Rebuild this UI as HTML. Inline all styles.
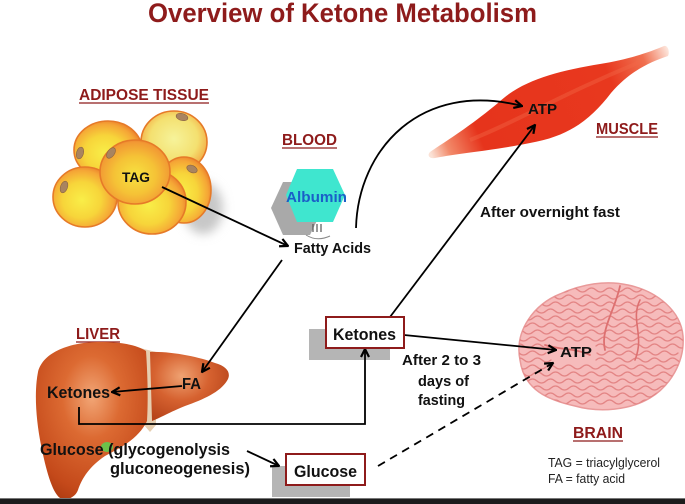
<!DOCTYPE html>
<html><head><meta charset="utf-8"><style>
html,body{margin:0;padding:0;background:#fff;}
svg{display:block;}
text{font-family:"Liberation Sans",Arial,sans-serif;}
</style></head><body>
<svg width="685" height="504" viewBox="0 0 685 504" xmlns="http://www.w3.org/2000/svg">
<defs>
  <marker id="ah" viewBox="0 0 10 10" refX="9" refY="5" markerWidth="10" markerHeight="10" markerUnits="userSpaceOnUse" orient="auto">
    <path d="M1,1 L9,5 L1,9" fill="none" stroke="#000" stroke-width="2.2"/>
  </marker>
  <radialGradient id="cell" cx="0.45" cy="0.55" r="0.6">
    <stop offset="0" stop-color="#f9ee48"/>
    <stop offset="0.5" stop-color="#f7d53a"/>
    <stop offset="0.82" stop-color="#f5a636"/>
    <stop offset="1" stop-color="#ea782a"/>
  </radialGradient>
  <radialGradient id="cellT" cx="0.5" cy="0.55" r="0.6">
    <stop offset="0" stop-color="#f6e240"/>
    <stop offset="0.5" stop-color="#f5c236"/>
    <stop offset="0.85" stop-color="#f29a34"/>
    <stop offset="1" stop-color="#e8742a"/>
  </radialGradient>
  <radialGradient id="cell2" cx="0.5" cy="0.45" r="0.6">
    <stop offset="0" stop-color="#f6f39a"/>
    <stop offset="0.6" stop-color="#f4e070"/>
    <stop offset="0.88" stop-color="#f3b048"/>
    <stop offset="1" stop-color="#ea8030"/>
  </radialGradient>
  <linearGradient id="musc" x1="430" y1="152" x2="668" y2="50" gradientUnits="userSpaceOnUse">
    <stop offset="0" stop-color="#fbe2d6"/>
    <stop offset="0.07" stop-color="#f28a6a"/>
    <stop offset="0.2" stop-color="#e6341c"/>
    <stop offset="0.75" stop-color="#e8381e"/>
    <stop offset="0.9" stop-color="#f07050"/>
    <stop offset="1" stop-color="#fde6dc"/>
  </linearGradient>
  <radialGradient id="liverL" cx="0.5" cy="0.35" r="0.75">
    <stop offset="0" stop-color="#f2a676"/>
    <stop offset="0.35" stop-color="#dc6a32"/>
    <stop offset="0.8" stop-color="#c4491a"/>
    <stop offset="1" stop-color="#a9380f"/>
  </radialGradient>
  <radialGradient id="liverR" cx="0.4" cy="0.35" r="0.7">
    <stop offset="0" stop-color="#efa272"/>
    <stop offset="0.5" stop-color="#d66230"/>
    <stop offset="1" stop-color="#b6431a"/>
  </radialGradient>
  <filter id="blur" x="-50%" y="-50%" width="200%" height="200%"><feGaussianBlur stdDeviation="5"/></filter>
  <clipPath id="brainclip">
    <path d="M520,360 C514,330 535,304 560,294 C582,284 606,280 628,285 C657,291 681,311 683,336 C685,362 670,386 650,398 C630,410 600,413 575,406 C548,400 524,390 520,360 Z"/>
  </clipPath>
</defs>

<!-- Title -->
<text x="148" y="22" font-size="27" font-weight="bold" fill="#8e1b1b" textLength="389" lengthAdjust="spacingAndGlyphs">Overview of Ketone Metabolism</text>

<!-- Section labels -->
<g font-weight="bold" fill="#8e1b1b" font-size="16">
  <text x="79" y="100" textLength="130" lengthAdjust="spacingAndGlyphs">ADIPOSE TISSUE</text>
  <text x="282" y="145" textLength="55" lengthAdjust="spacingAndGlyphs">BLOOD</text>
  <text x="596" y="134" textLength="62" lengthAdjust="spacingAndGlyphs">MUSCLE</text>
  <text x="76" y="339" textLength="44" lengthAdjust="spacingAndGlyphs">LIVER</text>
  <text x="573" y="438" textLength="50" lengthAdjust="spacingAndGlyphs">BRAIN</text>
</g>
<g stroke="#8e1b1b" stroke-width="1.3">
  <line x1="79" y1="103" x2="209" y2="103"/>
  <line x1="282" y1="148" x2="337" y2="148"/>
  <line x1="596" y1="137" x2="658" y2="137"/>
  <line x1="76" y1="342" x2="120" y2="342"/>
  <line x1="573" y1="441" x2="623" y2="441"/>
</g>

<!-- Adipose cells -->
<ellipse cx="203" cy="208" rx="20" ry="26" fill="#c8c8c8" filter="url(#blur)"/>
<g stroke="#e67a28" stroke-width="1.6">
  <ellipse cx="108" cy="150" rx="34" ry="29" fill="url(#cell)"/>
  <ellipse cx="174" cy="142" rx="33" ry="31" fill="url(#cell2)"/>
  <ellipse cx="184" cy="190" rx="27" ry="33" fill="url(#cell)"/>
  <ellipse cx="85" cy="197" rx="32" ry="30" fill="url(#cell)"/>
  <ellipse cx="152" cy="202" rx="34" ry="32" fill="url(#cell)"/>
  <ellipse cx="135" cy="172" rx="35" ry="32" fill="url(#cellT)"/>
</g>
<g fill="#a98460" stroke="#8a6440" stroke-width="0.6">
  <ellipse cx="80" cy="153" rx="3.5" ry="6" transform="rotate(15 80 153)"/>
  <ellipse cx="182" cy="117" rx="6" ry="3.5" transform="rotate(15 182 117)"/>
  <ellipse cx="111" cy="153" rx="3.5" ry="6" transform="rotate(35 111 153)"/>
  <ellipse cx="64" cy="187" rx="3.5" ry="6" transform="rotate(20 64 187)"/>
  <ellipse cx="192" cy="169" rx="5.5" ry="3.5" transform="rotate(25 192 169)"/>
</g>

<!-- Albumin -->
<polygon points="283,182 310,182 323,208 310,235 283,235 271,208" fill="#a9a9a9"/>
<polygon points="297,169 333,169 345,195 333,222 297,222 286,195" fill="#3fe6cf"/>
<g stroke="#555" stroke-width="1.2">
  <line x1="313" y1="224" x2="313" y2="232"/>
  <line x1="317" y1="224" x2="317" y2="232"/>
  <line x1="321" y1="224" x2="321" y2="232"/>
</g>
<path d="M306,235 Q317,242 330,236" fill="none" stroke="#888" stroke-width="1"/>

<!-- Muscle -->
<path d="M430,152 C440,145 468,128 498,103 C522,80 558,71 600,64 C630,59 650,52 664,46 C668,45 670,52 668,56 C650,62 630,71 611,93 C591,119 570,136 530,143 C490,151 460,153 435,158 C429,159 427,155 430,152 Z" fill="url(#musc)"/>
<path d="M470,140 C520,120 560,95 640,62" fill="none" stroke="#f26a48" stroke-width="4" opacity="0.4"/>

<!-- Liver -->
<path d="M140,348 L156,352 L156,425 L150,432 L144,425 Z" fill="#e6ceb0"/>
<path d="M150,352 C170,351 200,357 215,363 C226,366 231,372 228,379 C222,391 205,399 185,406 C170,412 160,418 152,421 Z" fill="url(#liverR)"/>
<path d="M38,372 C43,352 70,342 100,342 C122,342 137,345 146,351 C148,380 148,405 147,421 C140,436 125,446 105,456 C90,466 82,478 78,490 C75,498 66,501 60,498 C52,492 46,470 41,445 C36,420 34,392 38,372 Z" fill="url(#liverL)"/>
<ellipse cx="107" cy="447" rx="6" ry="5" fill="#6cc24a"/>

<!-- Brain -->
<path d="M520,360 C514,330 535,304 560,294 C582,284 606,280 628,285 C657,291 681,311 683,336 C685,362 670,386 650,398 C630,410 600,413 575,406 C548,400 524,390 520,360 Z" fill="#f6bbbb" stroke="#e99a9a" stroke-width="1.5"/>
<g clip-path="url(#brainclip)" fill="none" stroke="#e38585" stroke-width="1.3" stroke-linecap="round">
  <path d="M515,290 q4.5,-4 9,0 t9,0 t9,0 t9,0 t9,0 t9,0 t9,0 t9,0 t9,0 t9,0 t9,0 t9,0 t9,0 t9,0 t9,0 t9,0 t9,0 t9,0 t9,0"/>
  <path d="M519,297 q4.5,4 9,0 t9,0 t9,0 t9,0 t9,0 t9,0 t9,0 t9,0 t9,0 t9,0 t9,0 t9,0 t9,0 t9,0 t9,0 t9,0 t9,0 t9,0 t9,0"/>
  <path d="M515,304 q4.5,-4 9,0 t9,0 t9,0 t9,0 t9,0 t9,0 t9,0 t9,0 t9,0 t9,0 t9,0 t9,0 t9,0 t9,0 t9,0 t9,0 t9,0 t9,0 t9,0"/>
  <path d="M519,311 q4.5,4 9,0 t9,0 t9,0 t9,0 t9,0 t9,0 t9,0 t9,0 t9,0 t9,0 t9,0 t9,0 t9,0 t9,0 t9,0 t9,0 t9,0 t9,0 t9,0"/>
  <path d="M515,318 q4.5,-4 9,0 t9,0 t9,0 t9,0 t9,0 t9,0 t9,0 t9,0 t9,0 t9,0 t9,0 t9,0 t9,0 t9,0 t9,0 t9,0 t9,0 t9,0 t9,0"/>
  <path d="M519,325 q4.5,4 9,0 t9,0 t9,0 t9,0 t9,0 t9,0 t9,0 t9,0 t9,0 t9,0 t9,0 t9,0 t9,0 t9,0 t9,0 t9,0 t9,0 t9,0 t9,0"/>
  <path d="M515,332 q4.5,-4 9,0 t9,0 t9,0 t9,0 t9,0 t9,0 t9,0 t9,0 t9,0 t9,0 t9,0 t9,0 t9,0 t9,0 t9,0 t9,0 t9,0 t9,0 t9,0"/>
  <path d="M519,339 q4.5,4 9,0 t9,0 t9,0 t9,0 t9,0 t9,0 t9,0 t9,0 t9,0 t9,0 t9,0 t9,0 t9,0 t9,0 t9,0 t9,0 t9,0 t9,0 t9,0"/>
  <path d="M515,346 q4.5,-4 9,0 t9,0 t9,0 t9,0"/>
  <path d="M596,346 q4.5,-4 9,0 t9,0 t9,0 t9,0 t9,0 t9,0 t9,0 t9,0 t9,0 t9,0"/>
  <path d="M519,353 q4.5,4 9,0 t9,0 t9,0"/>
  <path d="M597,353 q4.5,4 9,0 t9,0 t9,0 t9,0 t9,0 t9,0 t9,0 t9,0 t9,0"/>
  <path d="M515,360 q4.5,-4 9,0 t9,0 t9,0 t9,0"/>
  <path d="M596,360 q4.5,-4 9,0 t9,0 t9,0 t9,0 t9,0 t9,0 t9,0 t9,0 t9,0 t9,0"/>
  <path d="M519,367 q4.5,4 9,0 t9,0 t9,0 t9,0 t9,0 t9,0 t9,0 t9,0 t9,0 t9,0 t9,0 t9,0 t9,0 t9,0 t9,0 t9,0 t9,0 t9,0 t9,0"/>
  <path d="M515,374 q4.5,-4 9,0 t9,0 t9,0 t9,0 t9,0 t9,0 t9,0 t9,0 t9,0 t9,0 t9,0 t9,0 t9,0 t9,0 t9,0 t9,0 t9,0 t9,0 t9,0"/>
  <path d="M519,381 q4.5,4 9,0 t9,0 t9,0 t9,0 t9,0 t9,0 t9,0 t9,0 t9,0 t9,0 t9,0 t9,0 t9,0 t9,0 t9,0 t9,0 t9,0 t9,0 t9,0"/>
  <path d="M515,388 q4.5,-4 9,0 t9,0 t9,0 t9,0 t9,0 t9,0 t9,0 t9,0 t9,0 t9,0 t9,0 t9,0 t9,0 t9,0 t9,0 t9,0 t9,0 t9,0 t9,0"/>
  <path d="M519,395 q4.5,4 9,0 t9,0 t9,0 t9,0 t9,0 t9,0 t9,0 t9,0 t9,0 t9,0 t9,0 t9,0 t9,0 t9,0 t9,0 t9,0 t9,0 t9,0 t9,0"/>
  <path d="M515,402 q4.5,-4 9,0 t9,0 t9,0 t9,0 t9,0 t9,0 t9,0 t9,0 t9,0 t9,0 t9,0 t9,0 t9,0 t9,0 t9,0 t9,0 t9,0 t9,0 t9,0"/>
  <path d="M620,286 C615,310 600,330 605,350" stroke="#dd7070" stroke-width="1.8"/>
  <path d="M545,345 C560,350 575,348 590,355" stroke="#dd7070" stroke-width="1.8"/>
  <path d="M640,300 C630,320 645,335 635,360" stroke="#dd7070" stroke-width="1.6"/>
</g>

<!-- Shadows of boxes -->
<rect x="309" y="329" width="81" height="31" fill="#b5b5b5"/>
<rect x="272" y="466" width="78" height="31" fill="#b5b5b5"/>

<!-- Connectors -->
<g fill="none" stroke="#000" stroke-width="1.8">
  <line x1="162" y1="187" x2="288" y2="246" marker-end="url(#ah)"/>
  <line x1="282" y1="260" x2="202" y2="372" marker-end="url(#ah)"/>
  <path d="M356,228 C358,150 420,80 522,106" marker-end="url(#ah)"/>
  <line x1="390" y1="317" x2="535" y2="125" marker-end="url(#ah)"/>
  <line x1="182" y1="386" x2="112" y2="392" marker-end="url(#ah)"/>
  <polyline points="79,407 79,424 365,424 365,349" marker-end="url(#ah)"/>
  <line x1="404" y1="335" x2="556" y2="350" marker-end="url(#ah)"/>
  <line x1="247" y1="451" x2="279" y2="466" marker-end="url(#ah)"/>
  <line x1="378" y1="466" x2="553" y2="363" stroke-dasharray="8,6" marker-end="url(#ah)"/>
</g>

<!-- Boxes -->
<rect x="326" y="317" width="78" height="31" fill="#fff" stroke="#8e1b1b" stroke-width="2"/>
<rect x="286" y="454" width="79" height="31" fill="#fff" stroke="#8e1b1b" stroke-width="2"/>

<!-- Black labels -->
<g font-weight="bold" fill="#111">
  <text x="122" y="182" font-size="14" textLength="28" lengthAdjust="spacingAndGlyphs">TAG</text>
  <text x="294" y="253" font-size="15" textLength="77" lengthAdjust="spacingAndGlyphs">Fatty Acids</text>
  <text x="528" y="114" font-size="15" textLength="29" lengthAdjust="spacingAndGlyphs">ATP</text>
  <text x="480" y="217" font-size="15" textLength="140" lengthAdjust="spacingAndGlyphs">After overnight fast</text>
  <text x="333" y="340" font-size="16.5" textLength="63" lengthAdjust="spacingAndGlyphs">Ketones</text>
  <text x="402" y="365" font-size="15" textLength="79" lengthAdjust="spacingAndGlyphs">After 2 to 3</text>
  <text x="418" y="386" font-size="15" textLength="51" lengthAdjust="spacingAndGlyphs">days of</text>
  <text x="418" y="405" font-size="15" textLength="47" lengthAdjust="spacingAndGlyphs">fasting</text>
  <text x="560" y="357" font-size="15" textLength="32" lengthAdjust="spacingAndGlyphs">ATP</text>
  <text x="47" y="398" font-size="16.5" textLength="63" lengthAdjust="spacingAndGlyphs">Ketones</text>
  <text x="182" y="389" font-size="15.5" textLength="19" lengthAdjust="spacingAndGlyphs">FA</text>
  <text x="40" y="455" font-size="16.5" textLength="190" lengthAdjust="spacingAndGlyphs">Glucose (glycogenolysis</text>
  <text x="110" y="474" font-size="16.5" textLength="140" lengthAdjust="spacingAndGlyphs">gluconeogenesis)</text>
  <text x="294" y="477" font-size="16.5" textLength="63" lengthAdjust="spacingAndGlyphs">Glucose</text>
</g>
<text x="286" y="202" font-size="15" font-weight="bold" fill="#1a5fc8" textLength="61" lengthAdjust="spacingAndGlyphs">Albumin</text>
<g fill="#222" font-size="12.5">
  <text x="548" y="467" textLength="112" lengthAdjust="spacingAndGlyphs">TAG = triacylglycerol</text>
  <text x="548" y="483" textLength="77" lengthAdjust="spacingAndGlyphs">FA = fatty acid</text>
</g>

<!-- Bottom dark strip -->
<rect x="0" y="498" width="685" height="6" fill="#1c1c1c"/>
<line x1="0" y1="498.5" x2="685" y2="498.5" stroke="#777" stroke-width="1"/>
</svg>
</body></html>
